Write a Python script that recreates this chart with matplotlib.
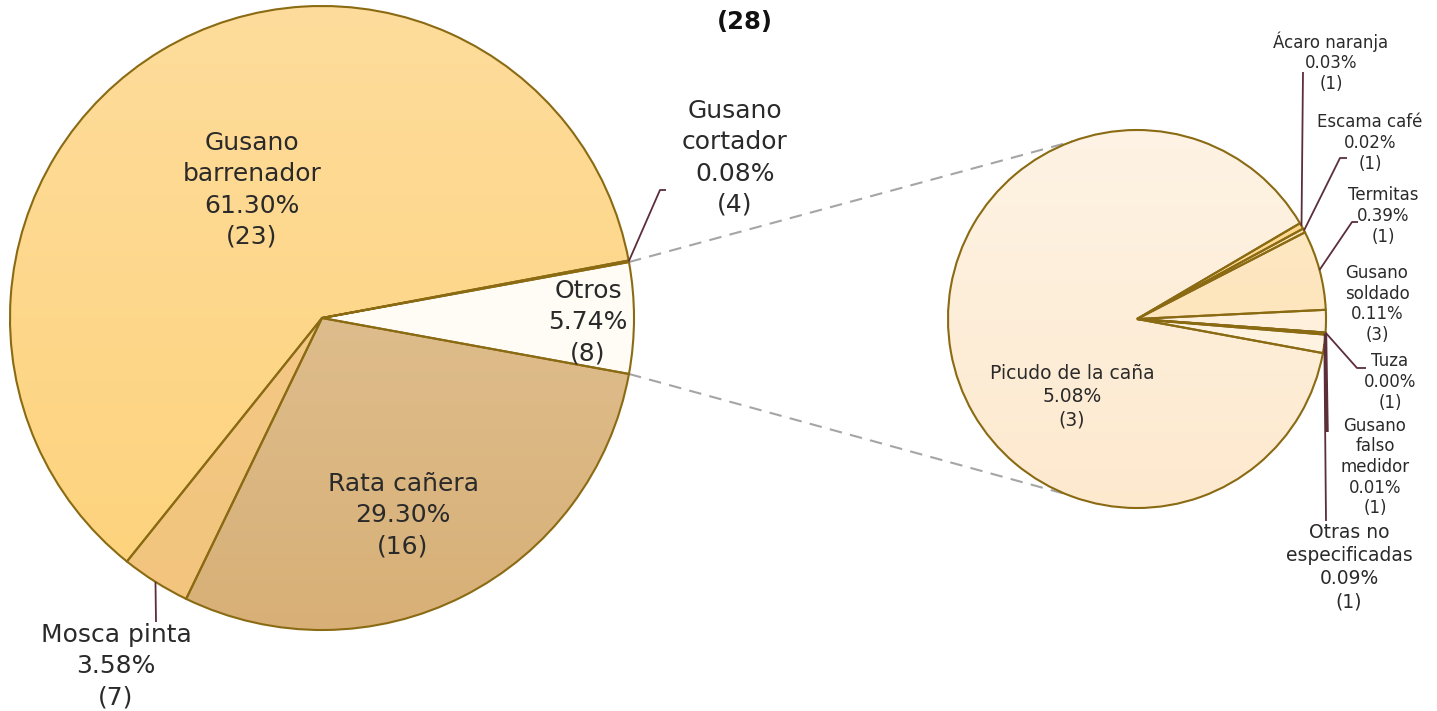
import matplotlib
matplotlib.use("Agg")
import matplotlib.pyplot as plt
import numpy as np
from matplotlib.colors import LinearSegmentedColormap

W, H = 1437, 711

# main pie: pests (share of damaged area, number of reports)
main_labels = ["Otros", "Gusano\ncortador", "Gusano\nbarrenador", "Mosca pinta", "Rata cañera"]
main_pct = [5.74, 0.08, 61.30, 3.58, 29.30]
main_counts = [8, 4, 23, 7, 16]
main_colors = [("#FFFDF8", "#FFFBF3"), ("#FDD98F", "#FDD98F"), ("#FEDC9B", "#FDD27A"),
               ("#F6CD8E", "#F2C47C"), ("#E4C9A0", "#D8B077")]

# breakdown of "Otros"
sub_labels = ["Otras no\nespecificadas", "Gusano\nfalso\nmedidor", "Tuza", "Gusano\nsoldado",
              "Termitas", "Escama café", "Ácaro naranja", "Picudo de la caña"]
sub_pct = [0.09, 0.01, 0.00, 0.11, 0.39, 0.02, 0.03, 5.08]
sub_counts = [1, 1, 1, 3, 1, 1, 1, 3]
sub_colors = [("#FEF2E0", "#FEF2E0"), ("#FDE3B5", "#FDE3B5"), ("#FDE3B5", "#FDE3B5"),
              ("#FEF0DC", "#FEF0DC"), ("#FEEAC8", "#FDE1B2"), ("#FDE3B5", "#FDE3B5"),
              ("#FDD98F", "#FDD98F"), ("#FEF3E4", "#FDE9CE")]

total_reports = 28

EDGE = "#8A6A12"
LEAD = "#5B2E3A"
TXT = "#2A2A2A"

plt.rcParams['font.family'] = ['DejaVu Sans']

fig = plt.figure(figsize=(W / 100, H / 100), dpi=100)
ax = fig.add_axes([0, 0, 1, 1])


def Y(y):
    # pixel row (from top) -> data y
    return H - y


def on_circle(center, r, ang):
    a = np.deg2rad(ang)
    return center[0] + r * np.cos(a), center[1] + r * np.sin(a)


def gradient_pie(values, colors, center, radius, start):
    wedges, _ = ax.pie(values, startangle=start, center=center, radius=radius,
                       counterclock=True, normalize=True,
                       wedgeprops=dict(edgecolor=EDGE, linewidth=1.5, facecolor="none"))
    grad = np.linspace(0, 1, 256).reshape(-1, 1)
    for w, (c1, c2) in zip(wedges, colors):
        w.set_facecolor("none")
        w.set_zorder(2)
        cm = LinearSegmentedColormap.from_list("g", [c1, c2])
        im = ax.imshow(grad, cmap=cm, aspect="auto", origin="upper", zorder=1,
                       extent=(center[0] - radius, center[0] + radius,
                               center[1] - radius, center[1] + radius))
        im.set_clip_path(w)
    return wedges


c_main = (322, Y(318))
r_main = 312
c_sub = (1137, Y(319))
r_sub = 189

main_w = gradient_pie(main_pct, main_colors, c_main, r_main, -main_pct[0] * 3.6 / 2)
sub_w = gradient_pie(sub_pct, sub_colors, c_sub, r_sub, -10.4)

# dashed connectors from "Otros" to the breakdown pie
otros = main_w[0]
for a_main, a_sub in [(otros.theta2, 110), (otros.theta1, -112)]:
    x0, y0 = on_circle(c_main, r_main, a_main)
    x1, y1 = on_circle(c_sub, r_sub, a_sub)
    ax.plot([x0, x1], [y0, y1], ls=(0, (6, 4)), color="#A5A5A5", lw=1.5, zorder=0.5)


def label(x, y, name, pct, n, size, ls):
    ax.text(x, Y(y), f"{name}\n{pct:.2f}%\n({n})", ha="center", va="center",
            fontsize=size, color=TXT, linespacing=ls, zorder=5)


def leader(wedge, center, r, pts, lw=1.3):
    mid = (wedge.theta1 + wedge.theta2) / 2
    x0, y0 = on_circle(center, r, mid)
    xs = [x0] + [p[0] for p in pts]
    ys = [y0] + [Y(p[1]) for p in pts]
    ax.plot(xs, ys, color=LEAD, lw=lw, zorder=4, solid_capstyle="butt")


# main pie labels
pos_main = {0: (588, 322), 1: (735, 158), 2: (252, 190), 3: (116, 666), 4: (403, 515)}
for i, (x, y) in pos_main.items():
    label(x, y, main_labels[i], main_pct[i], main_counts[i], 18, 1.38)

leader(main_w[1], c_main, r_main, [(660, 190), (666, 190)])
leader(main_w[3], c_main, r_main, [(156, 622)])

# breakdown labels
pos_sub = {0: (1349, 567), 1: (1375, 467), 2: (1390, 382), 3: (1377, 304),
           4: (1383, 216), 5: (1370, 143), 6: (1331, 62), 7: (1072, 397)}
sizes_sub = {0: 13.5, 1: 12, 2: 12, 3: 12, 4: 12, 5: 12, 6: 12, 7: 13.5}
for i, (x, y) in pos_sub.items():
    ls = 1.28 if sizes_sub[i] > 13 else 1.18
    label(x, y, sub_labels[i], sub_pct[i], sub_counts[i], sizes_sub[i], ls)

leader(sub_w[6], c_sub, r_sub, [(1303, 72)])
leader(sub_w[5], c_sub, r_sub, [(1340, 158), (1347, 158)])
leader(sub_w[4], c_sub, r_sub, [(1352, 222), (1358, 222)])
leader(sub_w[2], c_sub, r_sub, [(1357, 368), (1366, 368)])
leader(sub_w[1], c_sub, r_sub, [(1327, 432)], lw=2.5)
leader(sub_w[0], c_sub, r_sub, [(1326, 521)])

ax.text(745, Y(22), f"({total_reports})", ha="center", va="center", fontsize=17.5,
        fontweight="bold", color="#111111")

ax.set_xlim(0, W)
ax.set_ylim(0, H)
ax.set_aspect("equal")
ax.axis("off")

fig.savefig("out.png", dpi=100, facecolor="white")
